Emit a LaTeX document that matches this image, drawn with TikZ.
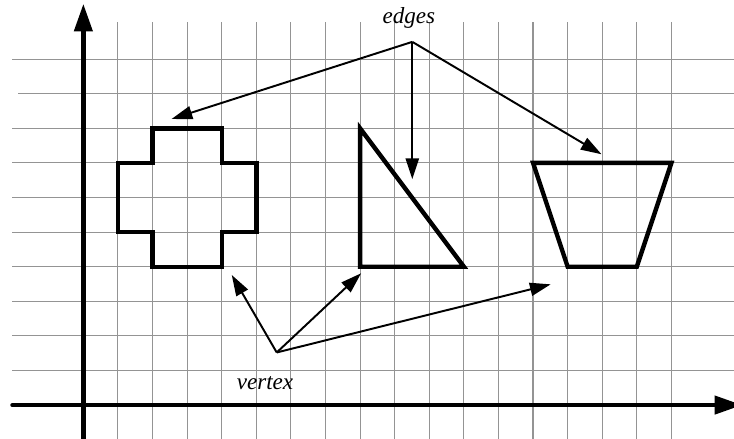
\documentclass[tikz,border=0pt]{standalone}
\usepackage{fontspec}
\setmainfont{Liberation Serif}
\usetikzlibrary{arrows.meta}
\definecolor{gridgray}{rgb}{0.58,0.58,0.58}
\begin{document}
\begin{tikzpicture}[
  gridline/.style={gridgray, line width=0.9pt},
  axisline/.style={black, line width=3.6pt, -{Triangle[length=0.8cm,width=0.52cm]}},
  shapeline/.style={black, line width=3.6pt, line join=miter},
  pointer/.style={black, line width=1.6pt, -{Triangle[length=0.6cm,width=0.38cm]}},
  lbl/.style={font=\fontsize{19}{21}\selectfont\itshape, inner sep=0pt}
]
\useasboundingbox (-2.41,-0.98) rectangle (18.81,11.71);
% grid
\foreach \y in {1,...,8,10} \draw[gridline] (-2.05,\y) -- (18.9,\y);
\draw[gridline] (-1.88,9) -- (18.9,9);
\foreach \x in {1,...,17} \draw[gridline] (\x,-1.1) -- (\x,11.07);
% axes
\draw[axisline, line cap=round] (-2.05,0) -- (19.05,0);
\draw[axisline] (0,-1.1) -- (0,11.6);
% cross
\draw[shapeline] (2,8) -- (4,8) -- (4,7) -- (5,7) -- (5,5) -- (4,5) -- (4,4) -- (2,4) -- (2,5) -- (1,5) -- (1,7) -- (2,7) -- cycle;
% triangle
\draw[shapeline] (8,8) -- (11,4) -- (8,4) -- cycle;
% trapezoid
\draw[shapeline] (13,7) -- (17,7) -- (16,4) -- (14,4) -- cycle;
% labels
\node[lbl] (edges) at (9.41,11.18) {edges};
\node[lbl] (vertex) at (5.25,0.64) {vertex};
\coordinate (ehub) at (9.51,10.50);
\coordinate (e1) at (2.55,8.27);
\coordinate (e2) at (9.51,6.53);
\coordinate (e3) at (14.98,7.25);
\coordinate (vhub) at (5.59,1.52);
\coordinate (v1) at (4.29,3.76);
\coordinate (v2) at (8.03,3.81);
\coordinate (v3) at (13.51,3.49);
\draw[pointer] (ehub) -- (e1);
\draw[pointer] (ehub) -- (e2);
\draw[pointer] (ehub) -- (e3);
\draw[pointer] (vhub) -- (v1);
\draw[pointer] (vhub) -- (v2);
\draw[pointer] (vhub) -- (v3);
\end{tikzpicture}
\end{document}
